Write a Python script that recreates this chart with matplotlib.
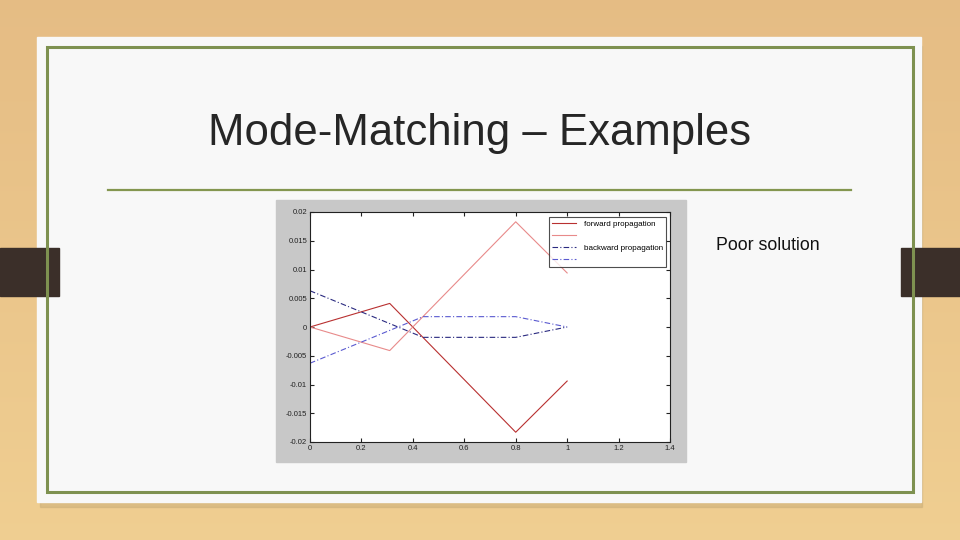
import numpy as np
import matplotlib
matplotlib.use("Agg")
import matplotlib.pyplot as plt
from matplotlib.patches import Rectangle

plt.rcParams['font.family'] = ['Liberation Sans', 'DejaVu Sans']

# slide text
title = "Mode-Matching \u2013 Examples"
note = "Poor solution"

# plot data
x_fwd = [0, 0.31, 0.8, 1.0]
fwd_a = [0, 0.0041, -0.0183, -0.0094]
fwd_b = [0, -0.0041, 0.0183, 0.0094]
x_bwd = [0, 0.44, 0.8, 1.0]
bwd_a = [0.0063, -0.0018, -0.0018, 0]
bwd_b = [-0.0063, 0.0018, 0.0018, 0]
legend_labels = ["forward propagation", " ", "backward propagation", " "]
xticks = [0, 0.2, 0.4, 0.6, 0.8, 1.0, 1.2, 1.4]
xtick_labels = ["0", "0.2", "0.4", "0.6", "0.8", "1", "1.2", "1.4"]
yticks = [0.02, 0.015, 0.01, 0.005, 0, -0.005, -0.01, -0.015, -0.02]
ytick_labels = ["0.02", "0.015", "0.01", "0.005", "0", "-0.005", "-0.01", "-0.015", "-0.02"]

fig = plt.figure(figsize=(9.6, 5.4), dpi=100)

# background (pixel coordinates)
bg = fig.add_axes([0, 0, 1, 1])
bg.set_xlim(0, 960)
bg.set_ylim(540, 0)
bg.axis('off')

# wood-ish gradient
grad = np.linspace(0, 1, 256).reshape(-1, 1)
top = np.array([0.90, 0.74, 0.52])
bot = np.array([0.94, 0.81, 0.57])
img = top + (bot - top) * grad[..., None]
img = np.repeat(img, 2, axis=1)
bg.imshow(img, extent=[0, 960, 540, 0], aspect='auto', zorder=0)

# shadow + white slide
bg.add_patch(Rectangle((40, 46), 882, 461, color='#c9ad78', alpha=0.5, zorder=2))
bg.add_patch(Rectangle((37, 37), 884, 465, color='#f8f8f8', zorder=3))

# dark tabs over the slide edge
bg.add_patch(Rectangle((0, 248), 59, 48, color='#3b2f29', zorder=3.5))
bg.add_patch(Rectangle((901, 248), 59, 48, color='#3b2f29', zorder=3.5))

bg.add_patch(Rectangle((47, 47), 866, 445, fill=False, edgecolor='#7e9150', lw=2.2, zorder=4))

# title and rule
bg.text(480, 134, title, ha='center', va='center', fontsize=31.5, color='#262626', zorder=5)
bg.plot([108, 851], [190, 190], color='#849650', lw=1.6, zorder=5)
bg.text(767.5, 246, note, ha='center', va='center', fontsize=12.8, color='#111111', zorder=5)

# matlab figure gray area
bg.add_patch(Rectangle((276, 200), 410, 262, color='#c8c8c8', zorder=5))

ax = fig.add_axes([310 / 960, (540 - 442) / 540, 360 / 960, 230 / 540])
ax.set_facecolor('white')
l1, = ax.plot(x_fwd, fwd_a, color='#b83030', lw=0.8)
l2, = ax.plot(x_fwd, fwd_b, color='#e88a8a', lw=0.8)
l3, = ax.plot(x_bwd, bwd_a, color='#2a2a80', lw=0.8, ls=(0, (5, 2, 1, 2)))
l4, = ax.plot(x_bwd, bwd_b, color='#5a5ad0', lw=0.8, ls=(0, (5, 2, 1, 2)))
ax.set_xlim(0, 1.4)
ax.set_ylim(-0.02, 0.02)
ax.set_xticks(xticks)
ax.set_xticklabels(xtick_labels)
ax.set_yticks(yticks)
ax.set_yticklabels(ytick_labels)
ax.tick_params(direction='in', length=3, width=0.8, labelsize=5.5, pad=2,
               top=True, right=True, colors='#222222')
for s in ax.spines.values():
    s.set_linewidth(0.8)
    s.set_color('#222222')

leg = ax.legend([l1, l2, l3, l4], legend_labels, loc='upper right',
                bbox_to_anchor=(0.99, 0.978), fontsize=5.8,
                frameon=True, fancybox=False, handlelength=3.0, borderpad=0.4,
                labelspacing=0.55, handletextpad=1.0, borderaxespad=0)
leg.get_frame().set_edgecolor('#222222')
leg.get_frame().set_linewidth(0.8)

fig.savefig("out.png", dpi=100)
